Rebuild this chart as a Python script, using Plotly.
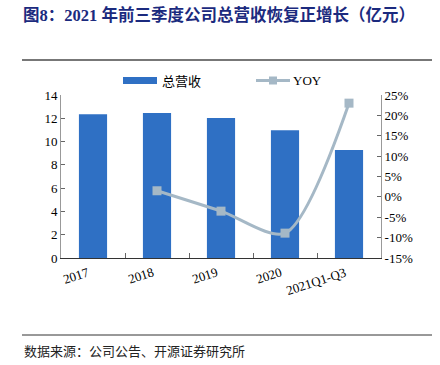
import plotly.graph_objects as go

categories = ["2017", "2018", "2019", "2020", "2021Q1-Q3"]
revenue = [12.35, 12.45, 12.03, 10.98, 9.27]
yoy = [None, 1.5, -3.5, -8.9, 23.0]
left_ticks = list(range(0, 15, 2))
right_ticks = list(range(-15, 26, 5))

BAR = "#2F70C4"
LINE = "#A5B8C6"
SERIF = "Times New Roman, Liberation Serif, Noto Sans CJK SC"

fig = go.Figure()
fig.add_trace(go.Bar(x=categories, y=revenue, name="总营收", marker_color=BAR,
                     marker_line_width=0, width=0.44, yaxis="y"))
fig.add_trace(go.Scatter(x=categories, y=yoy, name="YOY", mode="lines+markers",
                         line=dict(color=LINE, width=3, shape="spline", smoothing=0.8),
                         marker=dict(symbol="square", size=9, color=LINE),
                         yaxis="y2", connectgaps=False))

W, H = 440, 365
L, R, T, B = 61, 59, 95, 107
pw, ph = W - L - R, H - T - B

def px(x):
    return (x - L) / pw

def py(y):
    return (H - B - y) / ph

shapes = [
    dict(type="line", xref="paper", yref="paper", x0=px(22), x1=px(432), y0=py(60), y1=py(60),
         line=dict(color="#777", width=2), layer="above"),
    dict(type="line", xref="paper", yref="paper", x0=px(22), x1=px(432), y0=py(335), y1=py(335),
         line=dict(color="#333", width=1)),
    # legend symbols
    dict(type="rect", xref="paper", yref="paper", x0=px(123), x1=px(157), y0=py(84), y1=py(77),
         fillcolor=BAR, line=dict(width=0)),
    dict(type="line", xref="paper", yref="paper", x0=px(256), x1=px(290), y0=py(80.5), y1=py(80.5),
         line=dict(color=LINE, width=3)),
    dict(type="rect", xref="paper", yref="paper", x0=px(269), x1=px(277), y0=py(84.5), y1=py(76.5),
         fillcolor=LINE, line=dict(width=0)),
]

annotations = [
    dict(text="<b>图8：2021 年前三季度公司总营收恢复正增长（亿元）</b>", xref="paper", yref="paper",
         x=px(21), y=py(15), xanchor="left", yanchor="middle", showarrow=False,
         font=dict(size=16.5, color="#1B2A7E", family=SERIF)),
    dict(text="总营收", xref="paper", yref="paper", x=px(160), y=py(80.5),
         xanchor="left", yanchor="middle", showarrow=False,
         font=dict(size=13, color="#000", family="Noto Sans CJK SC")),
    dict(text="YOY", xref="paper", yref="paper", x=px(291), y=py(80.5),
         xanchor="left", yanchor="middle", showarrow=False,
         font=dict(size=13, color="#000", family=SERIF)),
    dict(text="数据来源：公司公告、开源证券研究所", xref="paper", yref="paper",
         x=px(22), y=py(350), xanchor="left", yanchor="middle", showarrow=False,
         font=dict(size=13, color="#222", family="Noto Sans CJK SC")),
]
# rotated category labels, right end at the category centre
for i, c in enumerate(categories):
    annotations.append(dict(text=c, xref="x", yref="paper", x=i, y=py(262), xshift=1,
                            xanchor="right", yanchor="top", textangle=-18, showarrow=False,
                            font=dict(size=13, color="#000", family=SERIF)))

fig.update_layout(
    width=W, height=H,
    margin=dict(l=L, r=R, t=T, b=B, autoexpand=False),
    paper_bgcolor="white", plot_bgcolor="white",
    font=dict(family=SERIF, size=13, color="#000"),
    showlegend=False,
    xaxis=dict(type="category", categoryorder="array", categoryarray=categories,
               range=[-0.5, len(categories) - 0.5],
               showline=True, linecolor="#333", linewidth=1, ticks="inside", ticklen=5,
               tickcolor="#666", tickson="boundaries", showticklabels=False,
               showgrid=False, automargin=False),
    yaxis=dict(range=[0, 14], tickvals=left_ticks, showline=True, linecolor="#999",
               ticks="inside", ticklen=4, tickcolor="#666", showgrid=False, zeroline=False,
               tickfont=dict(size=13, family=SERIF), automargin=False),
    yaxis2=dict(range=[-15, 25], tickvals=right_ticks, ticktext=[f"{v}%" for v in right_ticks],
                overlaying="y", side="right", showline=True, linecolor="#999",
                ticks="inside", ticklen=4, tickcolor="#666", showgrid=False, zeroline=False,
                tickfont=dict(size=13, family=SERIF), automargin=False),
    shapes=shapes,
    annotations=annotations,
)

fig.write_html("out.html", config={"displayModeBar": False},
               post_script="document.body.style.margin='0';document.body.style.overflow='hidden';")
